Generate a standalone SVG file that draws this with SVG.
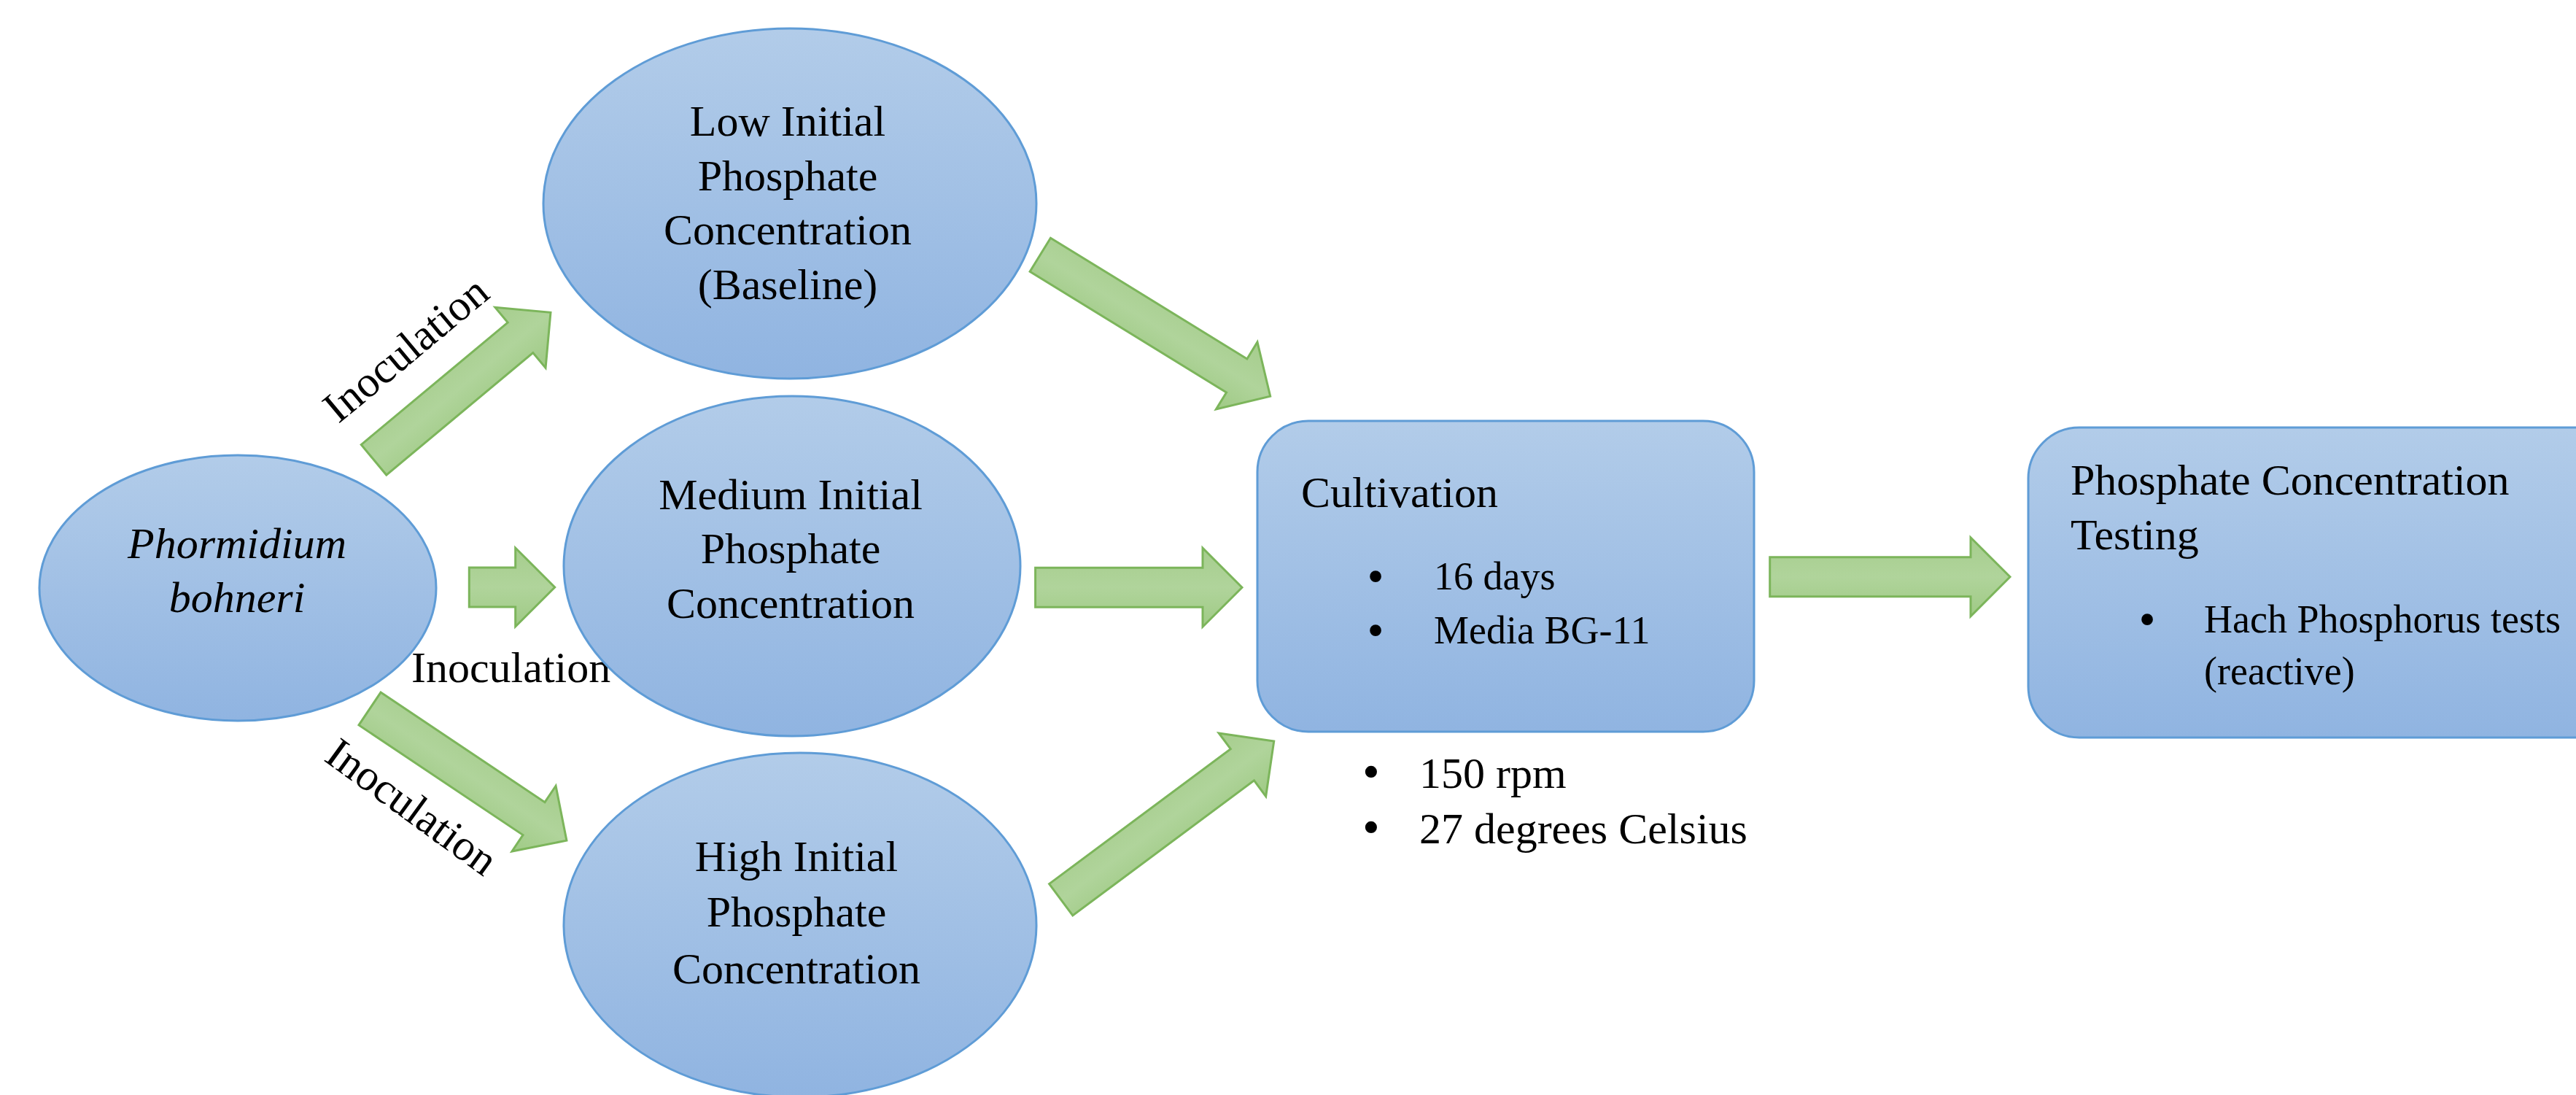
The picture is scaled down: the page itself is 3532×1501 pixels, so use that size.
<svg xmlns="http://www.w3.org/2000/svg" width="3532" height="1501" viewBox="0 0 3532 1501">
<defs>
<linearGradient id="blueGrad" x1="0" y1="0" x2="0" y2="1">
<stop offset="0" stop-color="#b2cce9"/>
<stop offset="1" stop-color="#90b4e1"/>
</linearGradient>
<linearGradient id="greenGrad" x1="0" y1="0" x2="0" y2="1">
<stop offset="0" stop-color="#a6cd8d"/>
<stop offset="0.5" stop-color="#b0d49b"/>
<stop offset="1" stop-color="#9fca85"/>
</linearGradient>
</defs>
<style>
.node { fill: url(#blueGrad); stroke: #5f9cd6; stroke-width: 3; }
.arrow { fill: url(#greenGrad); stroke: #7cb55b; stroke-width: 3; stroke-linejoin: miter; }
text { font-family: "Liberation Serif", "Times New Roman", serif; fill: #000; }
.lbl { font-size: 60px; text-anchor: middle; }
.it { font-style: italic; }
.hd { font-size: 60px; }
.sm { font-size: 54px; }
.bul { text-anchor: middle; font-size: 66px; }
.bulL { text-anchor: middle; font-size: 68px; }
</style>
<rect width="3532" height="1501" fill="#ffffff"/>

<g id="connectors">
<path class="arrow" transform="translate(512.5,630.3) rotate(-39.8)" d="M0,-27 H261.6 V-54 L315.6,0 L261.6,54 V27 H0 Z"/>
<path class="arrow" transform="translate(643.3,805)" d="M0,-27 H63.4 V-54 L117.4,0 L63.4,54 V27 H0 Z"/>
<path class="arrow" transform="translate(507,971.5) rotate(33.8)" d="M0,-27 H270.8 V-54 L324.8,0 L270.8,54 V27 H0 Z"/>
<path class="arrow" transform="translate(1426.3,349.2) rotate(31.6)" d="M0,-27 H316.3 V-54 L370.3,0 L316.3,54 V27 H0 Z"/>
<path class="arrow" transform="translate(1419.6,805.2)" d="M0,-27 H229.4 V-54 L283.4,0 L229.4,54 V27 H0 Z"/>
<path class="arrow" transform="translate(1454.7,1233.3) rotate(-36.65)" d="M0,-27 H310 V-54 L364,0 L310,54 V27 H0 Z"/>
<path class="arrow" transform="translate(2426.7,790.8)" d="M0,-27 H275.3 V-54 L329.3,0 L275.3,54 V27 H0 Z"/>
<text class="lbl" transform="translate(569,494) rotate(-39.8)" x="0" y="0">Inoculation</text>
<text class="hd" x="564" y="935">Inoculation</text>
<text class="lbl" transform="translate(553,1122) rotate(36)" x="0" y="0">Inoculation</text>
</g>

<g id="node-phormidium">
<ellipse class="node" cx="326" cy="806" rx="272" ry="182"/>
<text class="lbl it" x="325" y="765">Phormidium</text>
<text class="lbl it" x="325" y="839">bohneri</text>
</g>

<g id="node-low">
<ellipse class="node" cx="1083" cy="279" rx="338" ry="240"/>
<text class="lbl" x="1080" y="186">Low Initial</text>
<text class="lbl" x="1080" y="261">Phosphate</text>
<text class="lbl" x="1080" y="335">Concentration</text>
<text class="lbl" x="1080" y="410">(Baseline)</text>
</g>

<g id="node-medium">
<ellipse class="node" cx="1086" cy="776" rx="313" ry="233"/>
<text class="lbl" x="1084" y="698">Medium Initial</text>
<text class="lbl" x="1084" y="772">Phosphate</text>
<text class="lbl" x="1084" y="847">Concentration</text>
</g>

<g id="node-high">
<ellipse class="node" cx="1097" cy="1268" rx="324" ry="236"/>
<text class="lbl" x="1092" y="1194">High Initial</text>
<text class="lbl" x="1092" y="1270">Phosphate</text>
<text class="lbl" x="1092" y="1348">Concentration</text>
</g>

<g id="node-cultivation">
<rect class="node" x="1724" y="577" width="681" height="426" rx="70" ry="70"/>
<text class="hd" x="1784" y="695">Cultivation</text>
<text class="bul" x="1886" y="812">•</text>
<text class="sm" x="1966" y="808">16 days</text>
<text class="bul" x="1886" y="886">•</text>
<text class="sm" x="1966" y="882">Media BG-11</text>
</g>

<g id="cultivation-conditions">
<text class="bulL" x="1880" y="1080">•</text>
<text class="hd" x="1946" y="1080">150 rpm</text>
<text class="bulL" x="1880" y="1156">•</text>
<text class="hd" x="1946" y="1156">27 degrees Celsius</text>
</g>

<g id="node-testing">
<rect class="node" x="2781" y="586" width="820" height="425" rx="70" ry="70"/>
<text class="hd" x="2839" y="678">Phosphate Concentration</text>
<text class="hd" x="2839" y="753">Testing</text>
<text class="bul" x="2944" y="871">•</text>
<text class="sm" x="3022" y="867">Hach Phosphorus tests</text>
<text class="sm" x="3022" y="938">(reactive)</text>
</g>
</svg>
